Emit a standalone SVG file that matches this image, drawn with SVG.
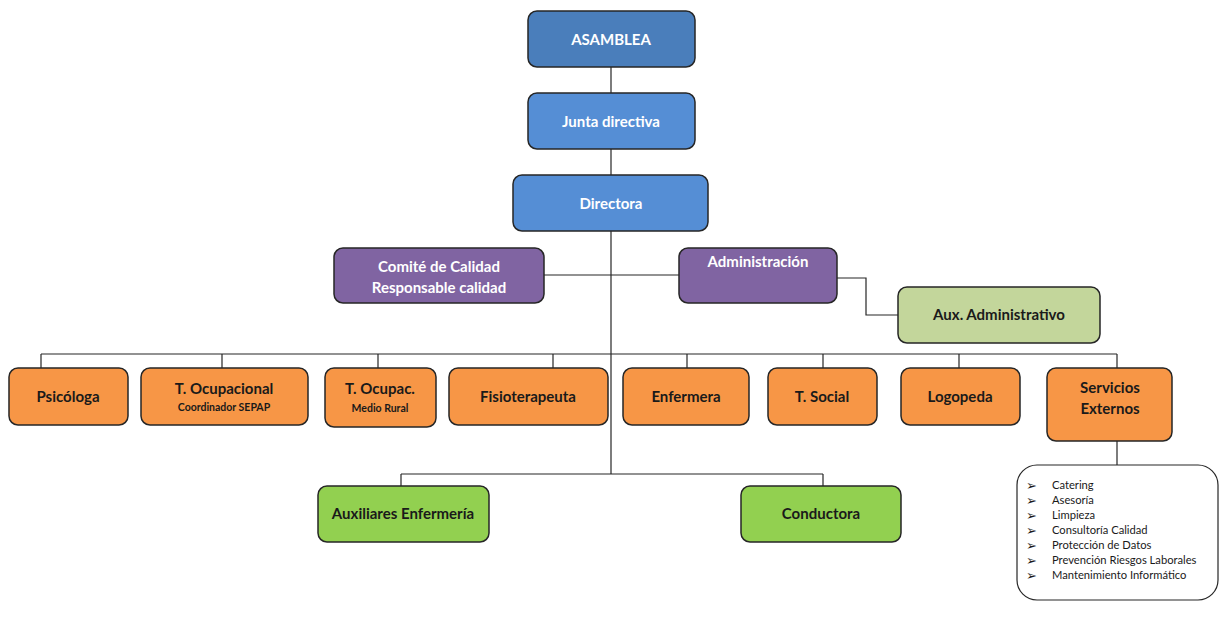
<svg xmlns="http://www.w3.org/2000/svg" width="1223" height="630" viewBox="0 0 1223 630">
<style>
.box{stroke:#262626;stroke-width:1.5}
.blue1{fill:#4a7ebb}
.blue2{fill:#558ed5}
.purple{fill:#8064a2}
.orange{fill:#f79646}
.green{fill:#92d050}
.lgreen{fill:#c3d69b}
.w{fill:#ffffff;font-family:Lato,"Open Sans","Liberation Sans",sans-serif;font-weight:bold;font-size:15px;text-anchor:middle}
.d{fill:#1a1a1a;font-family:Lato,"Open Sans","Liberation Sans",sans-serif;font-weight:bold;font-size:15px;text-anchor:middle}
.s{font-size:10.5px}
.li{fill:#1a1a1a;font-family:Lato,"Open Sans","Liberation Sans",sans-serif;font-size:11.2px}
.bu{fill:#1a1a1a;font-family:"DejaVu Sans",sans-serif;font-size:13px}
.conn{fill:none;stroke:#262626;stroke-width:1.2}
</style>
<rect width="1223" height="630" fill="#ffffff"/>
<g id="connectors">
<line class="conn" x1="611" y1="67" x2="611" y2="93"/>
<line class="conn" x1="611" y1="149" x2="611" y2="175"/>
<line class="conn" x1="611" y1="231" x2="611" y2="474"/>
<line class="conn" x1="544" y1="275" x2="679" y2="275"/>
<polyline class="conn" points="837,278 866,278 866,315 898,315"/>
<line class="conn" x1="41" y1="354" x2="1117" y2="354"/>
<line class="conn" x1="41" y1="354" x2="41" y2="368"/>
<line class="conn" x1="222" y1="354" x2="222" y2="368"/>
<line class="conn" x1="378" y1="354" x2="378" y2="368"/>
<line class="conn" x1="553" y1="354" x2="553" y2="368"/>
<line class="conn" x1="687" y1="354" x2="687" y2="368"/>
<line class="conn" x1="823" y1="354" x2="823" y2="368"/>
<line class="conn" x1="959" y1="354" x2="959" y2="368"/>
<line class="conn" x1="1117" y1="354" x2="1117" y2="368"/>
<line class="conn" x1="1117" y1="441" x2="1117" y2="465"/>
<line class="conn" x1="401" y1="474" x2="823" y2="474"/>
<line class="conn" x1="401" y1="474" x2="401" y2="486"/>
<line class="conn" x1="823" y1="474" x2="823" y2="486"/>
</g>
<g id="asamblea"><rect class="box blue1" x="528" y="11" width="167" height="56" rx="9"/><text class="w" x="611" y="45">ASAMBLEA</text></g>
<g id="junta"><rect class="box blue2" x="528" y="93" width="167" height="56" rx="9"/><text class="w" x="611" y="127">Junta directiva</text></g>
<g id="directora"><rect class="box blue2" x="513" y="175" width="195" height="56" rx="9"/><text class="w" x="611" y="209">Directora</text></g>
<g id="comite"><rect class="box purple" x="334" y="248" width="210" height="55" rx="9"/><text class="w" x="439" y="272">Comité de Calidad</text><text class="w" x="439" y="293">Responsable calidad</text></g>
<g id="administracion"><rect class="box purple" x="679" y="248" width="158" height="55" rx="9"/><text class="w" x="758" y="267">Administración</text></g>
<g id="aux-admin"><rect class="box lgreen" x="898" y="287" width="202" height="56" rx="9"/><text class="d" x="999" y="320">Aux. Administrativo</text></g>
<g id="psicologa"><rect class="box orange" x="9" y="368" width="119" height="57" rx="9"/><text class="d" x="68" y="402">Psicóloga</text></g>
<g id="t-ocupacional"><rect class="box orange" x="141" y="368" width="167" height="57" rx="9"/><text class="d" x="224" y="394">T. Ocupacional</text><text class="d s" x="224" y="411">Coordinador SEPAP</text></g>
<g id="t-ocupac"><rect class="box orange" x="325" y="368" width="111" height="59" rx="9"/><text class="d" x="380" y="394">T. Ocupac.</text><text class="d s" x="380" y="412">Medio Rural</text></g>
<g id="fisioterapeuta"><rect class="box orange" x="449" y="368" width="159" height="57" rx="9"/><text class="d" x="528" y="402">Fisioterapeuta</text></g>
<g id="enfermera"><rect class="box orange" x="623" y="368" width="126" height="57" rx="9"/><text class="d" x="686" y="402">Enfermera</text></g>
<g id="t-social"><rect class="box orange" x="768" y="368" width="109" height="57" rx="9"/><text class="d" x="822" y="402">T. Social</text></g>
<g id="logopeda"><rect class="box orange" x="901" y="368" width="119" height="57" rx="9"/><text class="d" x="960" y="402">Logopeda</text></g>
<g id="servicios"><rect class="box orange" x="1047" y="368" width="125" height="73" rx="9"/><text class="d" x="1110" y="393">Servicios</text><text class="d" x="1110" y="414">Externos</text></g>
<g id="servicios-lista"><rect x="1017" y="465" width="201" height="135" rx="20" fill="#ffffff" stroke="#262626" stroke-width="1.2"/>
<text class="bu" x="1026" y="490">➢</text><text class="li" x="1052" y="489">Catering</text>
<text class="bu" x="1026" y="505">➢</text><text class="li" x="1052" y="504">Asesoría</text>
<text class="bu" x="1026" y="520">➢</text><text class="li" x="1052" y="519">Limpieza</text>
<text class="bu" x="1026" y="535">➢</text><text class="li" x="1052" y="534">Consultoría Calidad</text>
<text class="bu" x="1026" y="550">➢</text><text class="li" x="1052" y="549">Protección de Datos</text>
<text class="bu" x="1026" y="565">➢</text><text class="li" x="1052" y="564">Prevención Riesgos Laborales</text>
<text class="bu" x="1026" y="580">➢</text><text class="li" x="1052" y="579">Mantenimiento Informático</text>
</g>
<g id="auxiliares"><rect class="box green" x="318" y="486" width="171" height="56" rx="9"/><text class="d" x="403" y="519">Auxiliares Enfermería</text></g>
<g id="conductora"><rect class="box green" x="741" y="486" width="160" height="56" rx="9"/><text class="d" x="821" y="519">Conductora</text></g>
</svg>
